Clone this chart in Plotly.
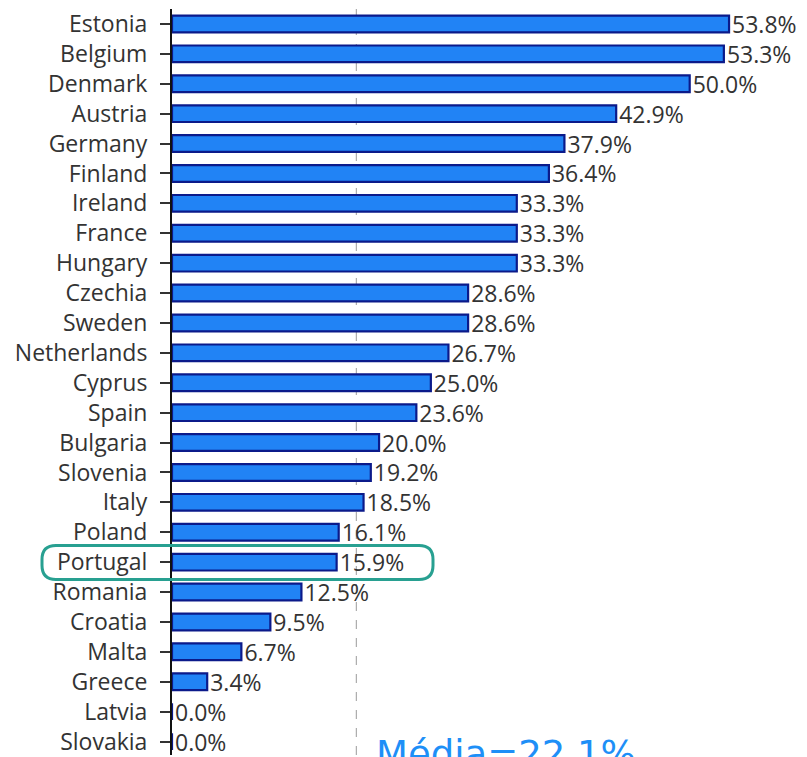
import plotly.graph_objects as go

countries = ["Estonia", "Belgium", "Denmark", "Austria", "Germany", "Finland", "Ireland",
             "France", "Hungary", "Czechia", "Sweden", "Netherlands", "Cyprus", "Spain",
             "Bulgaria", "Slovenia", "Italy", "Poland", "Portugal", "Romania", "Croatia",
             "Malta", "Greece", "Latvia", "Slovakia"]
values = [53.8, 53.3, 50.0, 42.9, 37.9, 36.4, 33.3, 33.3, 33.3, 28.6, 28.6, 26.7, 25.0,
          23.6, 20.0, 19.2, 18.5, 16.1, 15.9, 12.5, 9.5, 6.7, 3.4, 0.0, 0.0]
value_labels = [f"{v:.1f}%" for v in values]
avg_label = "Média=22.1%"
avg_line_value = 17.8
highlight = "Portugal"

W, H = 807, 757
L, R, T, B = 172, 0, 9, 0
pw, ph = W - L - R, H - T - B
pitch = 29.98
scale = 10.354  # px per percentage point


def px_x(p):
    return (p - L) / pw


def px_y(p):
    return 1 - (p - T) / ph


fig = go.Figure(go.Bar(
    x=values, y=countries, orientation="h",
    marker=dict(color="#2183f5", line=dict(color="#0b1a8a", width=2.2)),
    width=0.56,
    text=value_labels, textposition="outside", cliponaxis=False,
    constraintext="none", hoverinfo="skip",
    textfont=dict(family="Open Sans", size=23, color="#333333"),
))

# rounded highlight box around Portugal
x0, x1, y0, y1 = px_x(42), px_x(433), px_y(547), px_y(581)
rx = 14 / pw
ry = 14 / ph
path = (f"M {x0+rx},{y0} L {x1-rx},{y0} Q {x1},{y0} {x1},{y0-ry} "
        f"L {x1},{y1+ry} Q {x1},{y1} {x1-rx},{y1} L {x0+rx},{y1} "
        f"Q {x0},{y1} {x0},{y1+ry} L {x0},{y0-ry} Q {x0},{y0} {x0+rx},{y0} Z")
fig.add_shape(type="path", path=path, xref="paper", yref="paper",
              line=dict(color="#28a091", width=3), layer="above")

fig.add_shape(type="line", x0=avg_line_value, x1=avg_line_value, y0=0, y1=1,
              xref="x", yref="paper", layer="below",
              line=dict(color="#9a9a9a", width=1, dash="dash"))

fig.add_annotation(text=avg_label, x=px_x(374), y=px_y(733), xref="paper", yref="paper",
                   xanchor="left", yanchor="top", showarrow=False,
                   font=dict(family="DejaVu Sans", size=37, color="#1e8ff7"))

fig.update_layout(
    width=W, height=H, margin=dict(l=L, r=R, t=T, b=B, pad=0),
    plot_bgcolor="white", paper_bgcolor="white", showlegend=False,
    xaxis=dict(range=[0, pw / scale], visible=False),
    yaxis=dict(categoryorder="array", categoryarray=countries, autorange=False,
               range=[-0.5 + ph / pitch, -0.5],
               showline=True, linecolor="#111111", linewidth=2,
               ticks="outside", ticklen=10, tickwidth=2, tickcolor="#333333",
               ticklabelstandoff=8,
               tickfont=dict(family="Open Sans", size=23, color="#333333"),
               showgrid=False, zeroline=False),
)

fig.write_html("out.html", config={"displayModeBar": False},
               post_script="document.body.style.margin='0';document.body.style.overflow='hidden';")
